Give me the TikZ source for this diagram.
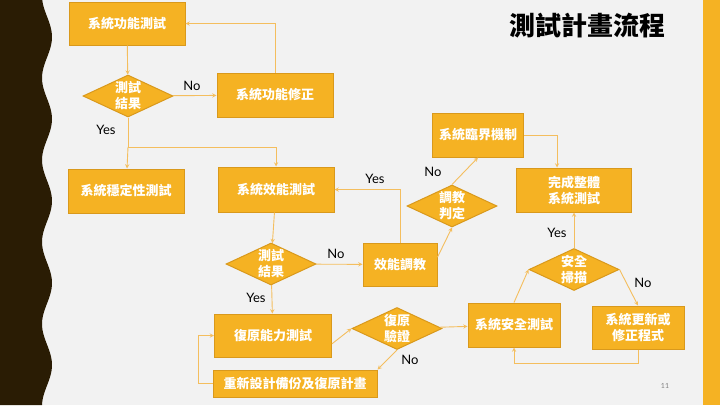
\documentclass[tikz,border=0pt]{standalone}
\usepackage{fontspec}
\usepackage{tikz}
\usetikzlibrary{shapes.geometric}
\newfontfamily\cjk{Noto Sans CJK TC}
\newfontfamily\latin{Lato}
\definecolor{pagebg}{HTML}{F2F2F2}
\definecolor{stripdark}{HTML}{2A1C04}
\definecolor{boxfill}{HTML}{F5B223}
\definecolor{boxedge}{HTML}{D9991C}
\definecolor{flowline}{HTML}{F4BE5E}

\begin{document}
\begin{tikzpicture}[x=1pt,y=-1pt,>=stealth,
  box/.style={draw=boxedge,fill=boxfill,line width=1pt,text=white,inner sep=0pt,
    align=center,font=\cjk\bfseries\fontsize{13}{16}\selectfont},
  decision/.style={box,diamond,aspect=2,minimum width=90pt,minimum height=42pt},
  flow/.style={draw=flowline,line width=0.9pt},
  lbl/.style={font=\latin\fontsize{13}{15}\selectfont,text=black,inner sep=0pt}]
  \useasboundingbox (0,0) rectangle (720,405);
  \fill[pagebg] (0,0) rectangle (720,405);
  \fill[stripdark] (0,0) -- plot[variable=\t,domain=0:405,samples=120] ({47+5*cos(4.39*(\t-37))},\t) -- (0,405) -- cycle;
  \fill[boxfill] (703,0) rectangle (720,405);
  \node[font=\cjk\bfseries\fontsize{26}{28}\selectfont] (title) at (587,26) {測試計畫流程};

  \node[box,minimum width=116pt,minimum height=43pt] (functest) at (127,23.5) {系統功能測試};
  \node[decision] (dec1) at (128,96) {測試\\結果};
  \node[box,minimum width=116pt,minimum height=44pt] (funcfix) at (275,95) {系統功能修正};
  \node[box,minimum width=116pt,minimum height=44pt] (stable) at (126,191) {系統穩定性測試};
  \node[box,minimum width=116pt,minimum height=45pt] (perf) at (276,189.5) {系統效能測試};
  \node[decision] (dec2) at (271,264) {測試\\結果};
  \node[box,minimum width=74pt,minimum height=43pt] (tune) at (400,264.5) {效能調教};
  \node[decision] (dec3) at (452,206) {調教\\判定};
  \node[box,minimum width=91pt,minimum height=44pt] (crit) at (478,135) {系統臨界機制};
  \node[box,minimum width=115pt,minimum height=44pt] (done) at (574,190) {完成整體\\系統測試};
  \node[decision] (dec4) at (574,269.5) {安全\\掃描};
  \node[box,minimum width=92pt,minimum height=44pt] (sec) at (514,325) {系統安全測試};
  \node[box,minimum width=92pt,minimum height=43pt] (upd) at (638,327.5) {系統更新或\\修正程式};
  \node[box,minimum width=117pt,minimum height=43pt] (recov) at (273,335.5) {復原能力測試};
  \node[decision] (dec5) at (397,328.5) {復原\\驗證};
  \node[box,minimum width=164pt,minimum height=27pt] (redo) at (295,383.5) {重新設計備份及復原計畫};
  \coordinate (split) at (128,147);

  \draw[flow,->] (functest) -- (dec1);
  \draw[flow,->] (dec1) -- (funcfix);
  \draw[flow,->] (funcfix.north) |- (functest.east);
  \draw[flow] (dec1) -- (split);
  \draw[flow,->] (split) -- (stable);
  \draw[flow,->] (split) -| (perf.north);
  \draw[flow,->] (perf) -- (dec2);
  \draw[flow,->] (dec2) -- (tune);
  \draw[flow,->] (dec2) -- (recov);
  \draw[flow,->] (tune.north) |- (perf.east);
  \draw[flow,->] (tune.11) -- (dec3.south);
  \draw[flow,->] (dec3.north) -- (crit.south);
  \draw[flow,->] (crit.east) -| ([xshift=-17pt]done.north);
  \draw[flow,->] (dec4) -- (done);
  \draw[flow,->] (sec.north) -- (dec4.west);
  \draw[flow,->] (dec4.east) -- (upd.north);
  \draw[flow,->] (upd.south) -- ++(0,14) -| (sec.south);
  \draw[flow,->] (recov.-8) -- (dec5.west);
  \draw[flow,->] (dec5) -- (sec);
  \draw[flow,->] (dec5.south) -- (redo.north east);
  \draw[flow,->] (redo.west) -- ++(-14,0) |- (recov.west);

  \node[lbl] (no1) at (192,86) {No};
  \node[lbl] (yes1) at (106,130) {Yes};
  \node[lbl] (yes2) at (375,179) {Yes};
  \node[lbl] (no2) at (336,254) {No};
  \node[lbl] (yes3) at (256,298) {Yes};
  \node[lbl] (no3) at (433,172) {No};
  \node[lbl] (yes4) at (557,233) {Yes};
  \node[lbl] (no4) at (643,283) {No};
  \node[lbl] (no5) at (410,360) {No};
  \node[font=\latin\fontsize{7}{8}\selectfont,text=gray] (pagenum) at (665,386) {11};
\end{tikzpicture}
\end{document}
